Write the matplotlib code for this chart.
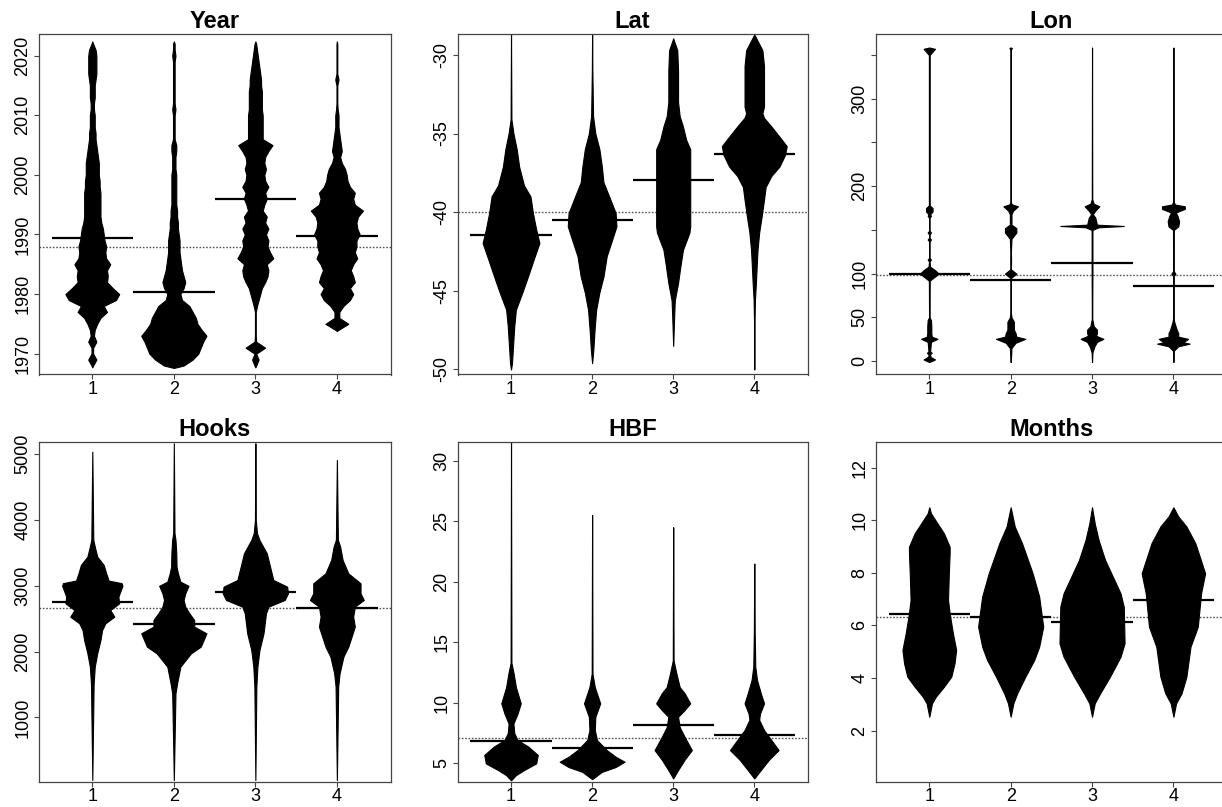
import matplotlib
matplotlib.use("Agg")
import matplotlib.pyplot as plt
import numpy as np

plt.rcParams["font.family"] = ["Liberation Sans", "DejaVu Sans"]

# bean profiles: y levels and half-widths (x units) per group
GROUPS = [1, 2, 3, 4]

# --- Year: shared yearly grid, per-group half-widths and extents
YEAR_LEVELS = list(range(1968, 2023))
YEAR_W = [
  [0.01, 0.05, 0.01, 0.01, 0.05, 0.02, 0.03, 0.06, 0.10, 0.18,
   0.14, 0.29, 0.33, 0.25, 0.18, 0.19, 0.18, 0.22, 0.17, 0.16,
   0.17, 0.15, 0.14, 0.13, 0.11, 0.10, 0.10, 0.10, 0.10, 0.10,
   0.09, 0.09, 0.08, 0.08, 0.08, 0.07, 0.06, 0.05, 0.04, 0.04,
   0.03, 0.03, 0.03, 0.02, 0.02, 0.03, 0.03, 0.03, 0.04, 0.05,
   0.05, 0.05, 0.05, 0.04, 0.01],
  [0.12, 0.23, 0.30, 0.33, 0.36, 0.40, 0.34, 0.29, 0.27, 0.23,
   0.19, 0.10, 0.08, 0.12, 0.14, 0.12, 0.10, 0.09, 0.08, 0.07,
   0.07, 0.07, 0.06, 0.05, 0.05, 0.04, 0.04, 0.03, 0.03, 0.03,
   0.03, 0.03, 0.03, 0.02, 0.02, 0.02, 0.03, 0.03, 0.01, 0.01,
   0.01, 0.01, 0.01, 0.02, 0.01, 0.01, 0.01, 0.01, 0.01, 0.01,
   0.01, 0.01, 0.02, 0.01, 0.01],
  [0.01, 0.04, 0.01, 0.12, 0.01, 0.005, 0.005, 0.005, 0.005, 0.005,
   0.02, 0.04, 0.06, 0.08, 0.12, 0.15, 0.16, 0.14, 0.22, 0.18,
   0.15, 0.16, 0.13, 0.16, 0.12, 0.14, 0.09, 0.11, 0.14, 0.12,
   0.16, 0.12, 0.11, 0.13, 0.11, 0.12, 0.16, 0.21, 0.09, 0.09,
   0.09, 0.09, 0.09, 0.08, 0.08, 0.08, 0.08, 0.07, 0.07, 0.06,
   0.05, 0.04, 0.03, 0.02, 0.01],
  [0.0, 0.0, 0.0, 0.0, 0.0, 0.0, 0.02, 0.14, 0.03, 0.03,
   0.08, 0.16, 0.20, 0.16, 0.22, 0.20, 0.17, 0.20, 0.25, 0.22,
   0.24, 0.24, 0.28, 0.25, 0.24, 0.26, 0.32, 0.22, 0.20, 0.22,
   0.16, 0.13, 0.12, 0.10, 0.06, 0.04, 0.06, 0.05, 0.04, 0.03,
   0.02, 0.02, 0.02, 0.01, 0.005, 0.005, 0.005, 0.005, 0.02, 0.005,
   0.005, 0.005, 0.005, 0.005, 0.005],
]
YEAR_LO = [1967.7, 1967.6, 1967.7, 1973.8]
YEAR_HI = [2022.4, 2022.4, 2022.4, 2022.4]
YEAR_MEANS = [1989.35, 1980.3, 1996.0, 1989.8]
YEAR_GRAND = 1987.9

# --- Lat
LAT_Y = [
  [-50.0, -49.6, -48.5, -47.25, -46.2, -45.1, -44.07, -43.0, -41.96, -41.1,
   -40.05, -39.0, -38.3, -37.1, -36.0, -35.0, -34.1, -28.6],
  [-49.6, -48.7, -47.5, -46.2, -45.1, -44.1, -42.8, -41.7, -40.9, -40.05,
   -39.0, -38.1, -37.1, -36.0, -35.0, -33.9, -31.0, -28.6],
  [-48.5, -46.6, -45.6, -44.5, -43.4, -42.4, -41.3, -40.9, -39.0, -37.1,
   -36.0, -35.4, -34.55, -33.9, -33.0, -31.0, -29.7, -28.95],
  [-50.0, -47.0, -45.6, -44.5, -43.4, -42.4, -41.3, -40.3, -39.2, -38.4,
   -37.7, -37.1, -36.35, -35.8, -35.2, -34.55, -34.0, -33.7, -33.3, -30.7,
   -29.7, -29.3, -28.7],
]
LAT_W = [
  [0.0, 0.012, 0.025, 0.04, 0.06, 0.14, 0.21, 0.28, 0.35, 0.31,
   0.27, 0.24, 0.16, 0.10, 0.07, 0.03, 0.005, 0.0],
  [0.0, 0.016, 0.03, 0.05, 0.09, 0.14, 0.18, 0.25, 0.30, 0.29,
   0.21, 0.14, 0.12, 0.09, 0.04, 0.012, 0.003, 0.0],
  [0.0, 0.012, 0.02, 0.06, 0.09, 0.12, 0.20, 0.21, 0.21, 0.21,
   0.21, 0.16, 0.12, 0.08, 0.06, 0.06, 0.05, 0.0],
  [0.0, 0.003, 0.008, 0.02, 0.03, 0.04, 0.06, 0.09, 0.12, 0.14,
   0.21, 0.31, 0.38, 0.40, 0.31, 0.21, 0.12, 0.10, 0.12, 0.12,
   0.10, 0.06, 0.0],
]
LAT_MEANS = [-41.43, -40.52, -37.96, -36.33]
LAT_GRAND = -39.99

# --- Lon
LON_Y = [
  [-1, 1, 2, 4, 6, 8, 9.5, 11, 22, 25.5, 28, 32, 40, 47, 50, 92, 96, 100,
   104, 108, 114, 116, 118, 137, 139, 141, 145, 147, 149, 164, 166, 168, 171,
   175, 178, 350, 357, 358.5],
  [-1, 5, 15, 21, 25.5, 28, 32, 36, 45, 50, 55, 95, 100, 105, 115, 125, 140,
   147, 152, 156, 168, 172, 177, 179, 181, 356, 358, 358.5],
  [-1, 10, 17, 22, 25.5, 29, 32, 36, 40, 48, 70, 100, 150, 153, 154.5, 156,
   160, 164, 168, 172, 177, 180, 185, 358.5],
  [-1, 12, 17, 20, 21.5, 25.5, 28, 32, 36, 45, 50, 97, 100, 103, 150, 154,
   160, 166, 170, 174, 177, 179, 182, 358.5],
]
LON_W = [
  [0.0, 0.05, 0.07, 0.03, 0.01, 0.01, 0.03, 0.01, 0.02, 0.10, 0.03, 0.025,
   0.025, 0.02, 0.003, 0.005, 0.06, 0.115, 0.07, 0.01, 0.003, 0.02, 0.003,
   0.003, 0.02, 0.003, 0.003, 0.02, 0.003, 0.003, 0.02, 0.01, 0.04, 0.04,
   0.005, 0.005, 0.07, 0.0],
  [0.0, 0.005, 0.01, 0.06, 0.18, 0.07, 0.06, 0.04, 0.04, 0.01, 0.003, 0.003,
   0.07, 0.003, 0.005, 0.003, 0.01, 0.07, 0.07, 0.01, 0.01, 0.03, 0.09,
   0.02, 0.003, 0.003, 0.015, 0.0],
  [0.0, 0.005, 0.03, 0.06, 0.14, 0.05, 0.06, 0.06, 0.02, 0.003, 0.003, 0.005,
   0.005, 0.08, 0.39, 0.06, 0.05, 0.04, 0.01, 0.04, 0.09, 0.02, 0.003, 0.0],
  [0.0, 0.005, 0.06, 0.20, 0.12, 0.18, 0.06, 0.06, 0.04, 0.01, 0.003, 0.003,
   0.025, 0.003, 0.005, 0.06, 0.07, 0.05, 0.03, 0.14, 0.14, 0.02, 0.003, 0.0],
]
LON_MEANS = [99.1, 92.3, 112.5, 85.4]
LON_GRAND = 98.7

# --- Hooks
HOOKS_Y = [
  [47, 1500, 1771, 1973, 2176, 2328, 2430, 2531, 2632, 2734, 2835, 2937,
   3000, 3040, 3080, 3190, 3317, 3444, 3596, 3700, 5040],
  [47, 1365, 1517, 1771, 1973, 2075, 2278, 2379, 2480, 2582, 2683, 2785,
   2886, 3000, 3063, 3190, 3290, 3500, 3700, 3800, 5167],
  [47, 1467, 1771, 2024, 2278, 2582, 2683, 2785, 2886, 2987, 3089, 3291,
   3494, 3697, 3800, 4000, 5167],
  [47, 1467, 1669, 1923, 2075, 2227, 2379, 2531, 2683, 2785, 2886, 3038,
   3190, 3393, 3596, 3700, 4914],
]
HOOKS_W = [
  [0.0, 0.016, 0.03, 0.06, 0.10, 0.12, 0.16, 0.27, 0.22, 0.33, 0.32, 0.35,
   0.37, 0.36, 0.20, 0.17, 0.14, 0.06, 0.03, 0.012, 0.0],
  [0.0, 0.02, 0.04, 0.08, 0.21, 0.33, 0.40, 0.25, 0.25, 0.19, 0.14, 0.12,
   0.14, 0.18, 0.08, 0.05, 0.033, 0.03, 0.02, 0.008, 0.0],
  [0.0, 0.012, 0.025, 0.05, 0.10, 0.13, 0.16, 0.36, 0.40, 0.39, 0.22, 0.18,
   0.14, 0.05, 0.02, 0.005, 0.0],
  [0.0, 0.016, 0.033, 0.08, 0.14, 0.18, 0.22, 0.20, 0.22, 0.33, 0.29, 0.29,
   0.14, 0.07, 0.04, 0.012, 0.0],
]
HOOKS_MEANS = [2754, 2419, 2911, 2658]
HOOKS_GRAND = 2658

# --- HBF
HBF_Y = [
  [3.6, 4.03, 4.45, 5.0, 5.7, 6.4, 6.93, 7.5, 8.3, 9.1, 9.96, 11.3, 12.4,
   13.3, 31.6],
  [3.7, 4.3, 4.7, 5.14, 5.55, 6.1, 6.93, 7.75, 8.85, 9.96, 11.3, 12.4, 25.5],
  [3.76, 4.45, 5.3, 6.1, 7.2, 8.0, 8.85, 9.4, 9.96, 10.8, 11.3, 12.4, 13.5,
   24.5],
  [3.76, 4.45, 5.3, 6.1, 6.93, 7.75, 8.6, 9.1, 9.96, 10.8, 11.9, 13.0, 16.0,
   21.5],
]
HBF_W = [
  [0.0, 0.06, 0.16, 0.31, 0.33, 0.21, 0.08, 0.04, 0.03, 0.08, 0.12, 0.06,
   0.033, 0.005, 0.0],
  [0.0, 0.12, 0.29, 0.40, 0.29, 0.18, 0.06, 0.033, 0.04, 0.10, 0.033, 0.005,
   0.0],
  [0.0, 0.06, 0.14, 0.23, 0.14, 0.08, 0.06, 0.14, 0.21, 0.14, 0.08, 0.04,
   0.005, 0.0],
  [0.0, 0.08, 0.18, 0.30, 0.21, 0.12, 0.06, 0.07, 0.12, 0.08, 0.033, 0.012,
   0.005, 0.0],
]
HBF_MEANS = [6.87, 6.29, 8.17, 7.31]
HBF_GRAND = 7.12

# --- Months
MONTHS_Y = [
  [2.53, 3.04, 3.29, 3.67, 4.05, 4.56, 5.07, 5.7, 6.46, 6.97, 7.98, 8.74,
   8.99, 9.5, 9.88, 10.26, 10.49],
  [2.53, 3.04, 3.42, 4.05, 4.69, 5.19, 5.95, 7.1, 7.98, 9.12, 9.76, 10.49],
  [2.53, 3.04, 3.42, 4.05, 4.81, 5.32, 6.71, 7.22, 8.49, 9.25, 9.88, 10.49],
  [2.53, 3.04, 3.42, 4.05, 5.19, 5.95, 7.22, 7.98, 9.12, 9.76, 10.14, 10.49],
]
MONTHS_W = [
  [0.0, 0.033, 0.08, 0.18, 0.27, 0.31, 0.33, 0.29, 0.25, 0.23, 0.24, 0.25,
   0.25, 0.18, 0.10, 0.02, 0.0],
  [0.0, 0.033, 0.08, 0.18, 0.29, 0.35, 0.40, 0.35, 0.27, 0.14, 0.05, 0.0],
  [0.0, 0.033, 0.10, 0.22, 0.35, 0.40, 0.39, 0.35, 0.16, 0.08, 0.033, 0.0],
  [0.0, 0.033, 0.10, 0.16, 0.21, 0.30, 0.34, 0.39, 0.27, 0.16, 0.06, 0.0],
]
MONTHS_MEANS = [6.42, 6.31, 6.12, 6.96]
MONTHS_GRAND = 6.32

# axis ticks
YEAR_TICKS = [1970, 1980, 1990, 2000, 2010, 2020]
LAT_TICKS = [-50, -45, -40, -35, -30]
LON_TICKS = [0, 50, 100, 150, 200, 250, 300, 350]
LON_TICK_LABELS = ["0", "50", "100", "", "200", "", "300", ""]
HOOKS_TICKS = [1000, 2000, 3000, 4000, 5000]
HBF_TICKS = [5, 10, 15, 20, 25, 30]
MONTHS_TICKS = [2, 4, 6, 8, 10, 12]

# layout in pixels (R mfrow grid, right column runs past the crop)
FIG_W, FIG_H = 1222, 807
COL_LEFT = [38.5, 457.5, 875.6]
COL_WIDTH = [352.2, 350.3, 351.5]
ROW_TOP = [34.3, 442.3]
ROW_HEIGHT = [340.2, 339.4]
AXIS_GREY = "#444444"


def clip_profile(levels, widths, lo, hi):
  y = np.asarray(levels, float)
  w = np.asarray(widths, float)
  keep = (y > lo) & (y < hi)
  return np.r_[lo, y[keep], hi], np.r_[0.0, w[keep], 0.0]


def add_panel(fig, row, col):
  l, t = COL_LEFT[col], ROW_TOP[row]
  w, h = COL_WIDTH[col], ROW_HEIGHT[row]
  return fig.add_axes([l / FIG_W, 1 - (t + h) / FIG_H, w / FIG_W, h / FIG_H])


def draw_beans(ax, ys, ws, means, grand, ylim, ticks, labels, title):
  ax.axhline(grand, color="#555555", ls=(0, (1.2, 1.2)), lw=1.0, zorder=1)
  for g, y, w in zip(GROUPS, ys, ws):
    y = np.asarray(y, float)
    w = np.asarray(w, float)
    ax.fill_betweenx(y, g - w, g + w, facecolor="black", edgecolor="black",
                     lw=0.8, zorder=2)
  ax.hlines(means, np.array(GROUPS) - 0.5, np.array(GROUPS) + 0.5,
            color="black", lw=1.6, zorder=3)

  ax.set_xlim(0.34, 4.66)
  ax.set_ylim(*ylim)
  ax.set_xticks(GROUPS)
  ax.set_xticklabels([str(g) for g in GROUPS])
  ax.set_yticks(ticks)
  ax.set_yticklabels(labels, rotation=90, va="center")
  ax.tick_params(direction="out", length=3.6, width=0.8, color=AXIS_GREY,
                 labelsize=13)
  ax.tick_params(axis="x", pad=0.8)
  ax.tick_params(axis="y", pad=1.5)
  for s in ax.spines.values():
    s.set_color(AXIS_GREY)
    s.set_linewidth(0.9)
  ax.set_title(title, fontsize=17, fontweight="bold", pad=4.5)


fig = plt.figure(figsize=(FIG_W / 100, FIG_H / 100), dpi=100)

year_profiles = [clip_profile(YEAR_LEVELS, w, lo, hi)
                 for w, lo, hi in zip(YEAR_W, YEAR_LO, YEAR_HI)]
ax = add_panel(fig, 0, 0)
draw_beans(ax, [p[0] for p in year_profiles], [p[1] for p in year_profiles],
           YEAR_MEANS, YEAR_GRAND, (1966.5, 2023.6),
           YEAR_TICKS, [str(t) for t in YEAR_TICKS], "Year")

ax = add_panel(fig, 0, 1)
draw_beans(ax, LAT_Y, LAT_W, LAT_MEANS, LAT_GRAND, (-50.32, -28.69),
           LAT_TICKS, [str(t) for t in LAT_TICKS], "Lat")

ax = add_panel(fig, 0, 2)
draw_beans(ax, LON_Y, LON_W, LON_MEANS, LON_GRAND, (-15.25, 373.6),
           LON_TICKS, LON_TICK_LABELS, "Lon")

ax = add_panel(fig, 1, 0)
draw_beans(ax, HOOKS_Y, HOOKS_W, HOOKS_MEANS, HOOKS_GRAND, (22, 5182),
           HOOKS_TICKS, [str(t) for t in HOOKS_TICKS], "Hooks")

ax = add_panel(fig, 1, 1)
draw_beans(ax, HBF_Y, HBF_W, HBF_MEANS, HBF_GRAND, (3.49, 31.51),
           HBF_TICKS, [str(t) for t in HBF_TICKS], "HBF")

ax = add_panel(fig, 1, 2)
draw_beans(ax, MONTHS_Y, MONTHS_W, MONTHS_MEANS, MONTHS_GRAND, (0.06, 12.96),
           MONTHS_TICKS, [str(t) for t in MONTHS_TICKS], "Months")

fig.savefig("out.png", dpi=100)
